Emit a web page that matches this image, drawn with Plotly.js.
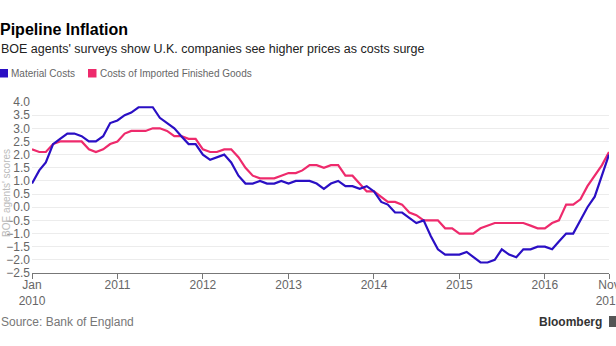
<!DOCTYPE html>
<html>
<head>
<meta charset="utf-8">
<script src="https://cdn.plot.ly/plotly-3.0.1.min.js"></script>
<style>
  html, body { margin: 0; padding: 0; background: #fff; }
  #chart { width: 616px; height: 346px; }
</style>
</head>
<body>
<div id="chart"></div>
<script>
// Monthly BOE agents' scores, Jan 2010 onwards
const startYear = 2010;
const materialCosts = [
  0.9, 1.4, 1.7, 2.4, 2.6, 2.8, 2.8, 2.7, 2.5, 2.5, 2.7, 3.2,
  3.3, 3.5, 3.6, 3.8, 3.8, 3.8, 3.4, 3.2, 3.0, 2.7, 2.4, 2.4,
  2.0, 1.8, 1.9, 2.0, 1.7, 1.2, 0.9, 0.9, 1.0, 0.9, 0.9, 1.0,
  0.9, 1.0, 1.0, 1.0, 0.9, 0.7, 0.9, 1.0, 0.8, 0.8, 0.7, 0.8,
  0.6, 0.2, 0.1, -0.2, -0.2, -0.4, -0.6, -0.5, -1.1, -1.6, -1.8, -1.8,
  -1.8, -1.7, -1.9, -2.1, -2.1, -2.0, -1.6, -1.8, -1.9, -1.6, -1.6, -1.5,
  -1.5, -1.6, -1.3, -1.0, -1.0, -0.5, 0.0, 0.4, 1.2, 2.0
];
const importedGoods = [
  2.2, 2.1, 2.1, 2.4, 2.5, 2.5, 2.5, 2.5, 2.2, 2.1, 2.2, 2.4,
  2.5, 2.8, 2.9, 2.9, 2.9, 3.0, 3.0, 2.9, 2.7, 2.7, 2.6, 2.6,
  2.2, 2.1, 2.1, 2.2, 2.2, 1.9, 1.5, 1.2, 1.1, 1.1, 1.1, 1.2,
  1.3, 1.3, 1.4, 1.6, 1.6, 1.5, 1.6, 1.6, 1.2, 1.2, 0.9, 0.6,
  0.6, 0.4, 0.2, 0.2, 0.1, -0.2, -0.3, -0.5, -0.5, -0.5, -0.8, -0.8,
  -1.0, -1.0, -1.0, -0.8, -0.7, -0.6, -0.6, -0.6, -0.6, -0.6, -0.7, -0.8,
  -0.8, -0.6, -0.5, 0.1, 0.1, 0.3, 0.8, 1.2, 1.6, 2.1
];
const tickDates = ['2010-01-01','2011-01-01','2012-01-01','2013-01-01','2014-01-01','2015-01-01','2016-01-01','2016-10-01'];
const tickLabels = ['Jan<br>2010','2011','2012','2013','2014','2015','2016','Nov<br>2016'];
const seriesNames = ['Material Costs', 'Costs of Imported Finished Goods'];

const months = materialCosts.map((_, i) => {
  const y = startYear + Math.floor(i / 12);
  const m = (i % 12) + 1;
  return y + '-' + String(m).padStart(2, '0') + '-01';
});

const BLUE = '#2a0fc4';
const PINK = '#ee2a6c';

const W = 616, H = 346;
const M = { l: 32, r: 7, t: 102, b: 73 };
const pw = W - M.l - M.r, ph = H - M.t - M.b;
const px = x => (x - M.l) / pw;
const py = y => (H - M.b - y) / ph;

const font = 'Liberation Sans, Arial, sans-serif';

const traces = [
  { x: months, y: importedGoods, name: seriesNames[1], type: 'scatter', mode: 'lines',
    line: { color: PINK, width: 2.2 }, hoverinfo: 'skip' },
  { x: months, y: materialCosts, name: seriesNames[0], type: 'scatter', mode: 'lines',
    line: { color: BLUE, width: 2.2 }, hoverinfo: 'skip' }
];

const ann = (x, y, text, opts) => Object.assign({
  xref: 'paper', yref: 'paper', x: px(x), y: py(y), text: text, showarrow: false,
  xanchor: 'left', yanchor: 'middle', align: 'left',
  font: { family: font, size: 12, color: '#333' }
}, opts || {});

const layout = {
  width: W, height: H,
  margin: M,
  paper_bgcolor: '#fff', plot_bgcolor: '#fff',
  showlegend: false,
  title: {
    text: '<b>Pipeline Inflation</b>',
    xref: 'container', yref: 'container', x: 0, xanchor: 'left',
    y: 1 - 29 / H, yanchor: 'middle',
    font: { family: font, size: 16, color: '#000' }
  },
  xaxis: {
    type: 'date',
    range: ['2010-01-01', '2016-10-01'],
    tickvals: tickDates, ticktext: tickLabels,
    ticks: 'outside', ticklen: 5, tickwidth: 1, tickcolor: '#777',
    ticklabeloverflow: 'allow',
    ticklabelstandoff: -4,
    showline: true, linecolor: '#777', linewidth: 1,
    showgrid: false, zeroline: false,
    tickfont: { family: font, size: 12, color: '#666' }
  },
  yaxis: {
    range: [-2.5, 4.0],
    dtick: 0.5, tick0: 0, tickformat: '.1f',
    ticks: '', showline: false,
    ticklabelstandoff: 1,
    showgrid: true, gridcolor: '#ececec', gridwidth: 1,
    zeroline: false,
    tickfont: { family: font, size: 12, color: '#666' }
  },
  shapes: [
    { type: 'rect', xref: 'paper', yref: 'paper', x0: px(0), x1: px(8), y0: py(77.5), y1: py(69), fillcolor: BLUE, line: { width: 0 } },
    { type: 'rect', xref: 'paper', yref: 'paper', x0: px(88), x1: px(96.5), y0: py(77.5), y1: py(69), fillcolor: PINK, line: { width: 0 } },
    { type: 'rect', xref: 'paper', yref: 'paper', x0: px(609), x1: px(618), y0: py(327), y1: py(316), fillcolor: '#555', line: { width: 0 } }
  ],
  annotations: [
    ann(-1, 49.5, "BOE agents' surveys show U.K. companies see higher prices as costs surge",
      { font: { family: font, size: 12.5, color: '#222' } }),
    ann(9, 73.5, seriesNames[0], { font: { family: font, size: 10, color: '#666' } }),
    ann(98, 73.5, seriesNames[1], { font: { family: font, size: 10, color: '#666' } }),
    ann(-1, 322, 'Source: Bank of England', { font: { family: font, size: 12, color: '#777' } }),
    ann(604, 322, '<b>Bloomberg</b>', { xanchor: 'right', font: { family: font, size: 12, color: '#333' } }),
    ann(6, 193, "BOE agents' scores", { xanchor: 'center', textangle: -90, font: { family: font, size: 10, color: '#bbb' } })
  ]
};

Plotly.newPlot('chart', traces, layout, { staticPlot: true, displayModeBar: false });
</script>
</body>
</html>
